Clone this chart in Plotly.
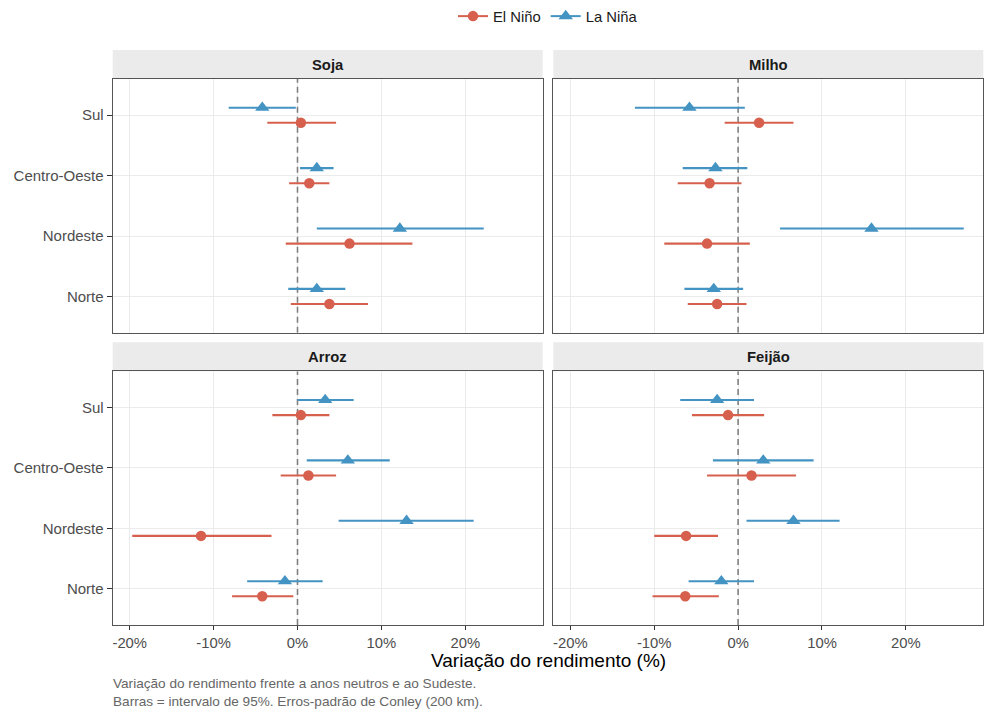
import plotly.graph_objects as go

# ---------------- data ----------------
regions = ["Norte", "Nordeste", "Centro-Oeste", "Sul"]  # bottom -> top
crops = ["Soja", "Milho", "Arroz", "Feijão"]
series_names = ["El Niño", "La Niña"]

# values in %, order follows `regions`
soja_el_est = [3.8, 6.2, 1.4, 0.4]
soja_el_lo = [-0.8, -1.4, -1.0, -3.6]
soja_el_hi = [8.4, 13.7, 3.8, 4.6]
soja_la_est = [2.3, 12.2, 2.3, -4.2]
soja_la_lo = [-1.1, 2.3, 0.3, -8.2]
soja_la_hi = [5.7, 22.2, 4.3, -0.2]

milho_el_est = [-2.5, -3.7, -3.4, 2.5]
milho_el_lo = [-6.0, -8.8, -7.2, -1.6]
milho_el_hi = [1.0, 1.4, 0.4, 6.6]
milho_la_est = [-2.9, 15.9, -2.7, -5.8]
milho_la_lo = [-6.4, 5.0, -6.6, -12.3]
milho_la_hi = [0.6, 26.9, 1.1, 0.8]

arroz_el_est = [-4.2, -11.5, 1.3, 0.4]
arroz_el_lo = [-7.8, -19.7, -2.0, -3.0]
arroz_el_hi = [-0.5, -3.1, 4.6, 3.8]
arroz_la_est = [-1.5, 13.0, 6.0, 3.3]
arroz_la_lo = [-6.0, 4.9, 1.1, 0.0]
arroz_la_hi = [3.0, 21.0, 11.0, 6.7]

feijao_el_est = [-6.3, -6.2, 1.6, -1.2]
feijao_el_lo = [-10.2, -10.0, -3.7, -5.5]
feijao_el_hi = [-2.3, -2.4, 6.9, 3.1]
feijao_la_est = [-2.0, 6.6, 3.0, -2.5]
feijao_la_lo = [-5.9, 1.0, -3.0, -6.9]
feijao_la_hi = [1.9, 12.1, 9.0, 1.9]

x_ticks = [-20, -10, 0, 10, 20]
x_tick_labels = ["-20%", "-10%", "0%", "10%", "20%"]
reference_value = 0

x_title = "Variação do rendimento (%)"
caption_lines = [
    "Variação do rendimento frente a anos neutros e ao Sudeste.",
    "Barras = intervalo de 95%. Erros-padrão de Conley (200 km).",
]

# ---------------- build ----------------
table = {
    "Soja": [(soja_el_est, soja_el_lo, soja_el_hi), (soja_la_est, soja_la_lo, soja_la_hi)],
    "Milho": [(milho_el_est, milho_el_lo, milho_el_hi), (milho_la_est, milho_la_lo, milho_la_hi)],
    "Arroz": [(arroz_el_est, arroz_el_lo, arroz_el_hi), (arroz_la_est, arroz_la_lo, arroz_la_hi)],
    "Feijão": [(feijao_el_est, feijao_el_lo, feijao_el_hi), (feijao_la_est, feijao_la_lo, feijao_la_hi)],
}

colors = ["#D6604D", "#4393C3"]
symbols = ["circle", "triangle-up"]
msizes = [10.5, 12.5]
dodge = [-0.125, 0.125]

W, H = 992, 710
FONT = "Liberation Sans, Arial, sans-serif"

# panel pixel boxes
col_x = [(112.7, 542.7), (553.3, 983.3)]
row_y = [(79.0, 332.7), (371.3, 625.0)]
strip_h = 29.0

all_vals = []
for c in crops:
    for est, lo, hi in table[c]:
        all_vals += lo + hi + est
vmin, vmax = min(all_vals), max(all_vals)
pad = 0.05 * (vmax - vmin)
x_range = [vmin - pad, vmax + pad]
y_range = [0.4, len(regions) + 0.6]

fig = go.Figure()
shapes = []
annotations = []
layout_axes = {}

for i, crop in enumerate(crops):
    r, c = divmod(i, 2)
    n = "" if i == 0 else str(i + 1)
    xa, ya = "x" + n, "y" + n
    x0p, x1p = col_x[c]
    y0p, y1p = row_y[r]
    # dashed reference line (drawn first, under the points)
    fig.add_trace(go.Scatter(
        x=[reference_value, reference_value], y=y_range, xaxis=xa, yaxis=ya,
        mode="lines", line=dict(color="#808080", width=1.6, dash="6px,4px"),
        showlegend=False, hoverinfo="skip",
    ))
    for s, (est, lo, hi) in enumerate(table[crop]):
        ypos = [k + 1 + dodge[s] for k in range(len(regions))]
        fig.add_trace(go.Scatter(
            x=est, y=ypos, xaxis=xa, yaxis=ya, mode="markers",
            marker=dict(color=colors[s], symbol=symbols[s], size=msizes[s], line=dict(width=0)),
            error_x=dict(type="data", symmetric=False,
                         array=[h - e for h, e in zip(hi, est)],
                         arrayminus=[e - l for e, l in zip(est, lo)],
                         color=colors[s], thickness=2.1, width=0),
            showlegend=False, name=series_names[s], hoverinfo="skip",
        ))
    bottom = r == 1
    left = c == 0
    layout_axes["xaxis" + n] = dict(
        domain=[x0p / W, x1p / W], anchor=ya, range=x_range,
        tickvals=x_ticks, ticktext=x_tick_labels, showticklabels=bottom,
        ticks="outside" if bottom else "", ticklen=4, tickwidth=1, tickcolor="#333333",
        showgrid=True, gridcolor="#EBEBEB", gridwidth=1.4, zeroline=False,
        showline=True, mirror=True, linecolor="#555555", linewidth=1.2,
        tickfont=dict(family=FONT, size=14.8, color="#4D4D4D"), fixedrange=True,
    )
    layout_axes["yaxis" + n] = dict(
        domain=[1 - y1p / H, 1 - y0p / H], anchor=xa, range=y_range,
        tickvals=list(range(1, len(regions) + 1)), ticktext=regions, showticklabels=left,
        ticks="outside" if left else "", ticklen=5, tickwidth=1, tickcolor="#333333",
        showgrid=True, gridcolor="#EBEBEB", gridwidth=1.4, zeroline=False,
        showline=True, mirror=True, linecolor="#555555", linewidth=1.2,
        tickfont=dict(family=FONT, size=15, color="#4D4D4D"), fixedrange=True,
    )
    # strip
    shapes.append(dict(type="rect", xref="paper", yref="paper",
                       x0=x0p / W, x1=x1p / W, y0=1 - y0p / H, y1=1 - (y0p - strip_h) / H,
                       fillcolor="#EBEBEB", line=dict(width=0), layer="below"))
    annotations.append(dict(text="<b>%s</b>" % crop, xref="paper", yref="paper",
                            x=(x0p + x1p) / 2 / W, y=1 - (y0p - strip_h / 2) / H,
                            xanchor="center", yanchor="middle", showarrow=False,
                            font=dict(family=FONT, size=14.8, color="#1A1A1A")))

# legend-only traces
for s in range(2):
    fig.add_trace(go.Scatter(
        x=[None], y=[None], mode="lines+markers", name=series_names[s],
        line=dict(color=colors[s], width=2),
        marker=dict(color=colors[s], symbol=symbols[s], size=msizes[s]),
        showlegend=True,
    ))

annotations.append(dict(text=x_title, xref="paper", yref="paper",
                        x=(col_x[0][0] + col_x[1][1]) / 2 / W, y=1 - 660.5 / H,
                        xanchor="center", yanchor="middle", showarrow=False,
                        font=dict(family=FONT, size=19, color="#000000")))
annotations.append(dict(text="<br>".join(caption_lines), xref="paper", yref="paper",
                        x=110.5 / W, y=1 - 674 / H, align="left",
                        xanchor="left", yanchor="top", showarrow=False,
                        font=dict(family=FONT, size=13.6, color="#666666")))

fig.update_layout(
    width=W, height=H,
    margin=dict(l=0, r=0, t=0, b=0),
    paper_bgcolor="white", plot_bgcolor="white",
    font=dict(family=FONT, color="#1A1A1A"),
    shapes=shapes, annotations=annotations,
    showlegend=True,
    legend=dict(orientation="h", x=(col_x[0][0] + col_x[1][1]) / 2 / W, xanchor="center",
                y=1, yanchor="top", font=dict(family=FONT, size=14.8, color="#1A1A1A"),
                itemwidth=30, bgcolor="rgba(0,0,0,0)"),
    **layout_axes,
)

fig.write_html("out.html", config={"displayModeBar": False},
               post_script="document.body.style.margin='0';")
